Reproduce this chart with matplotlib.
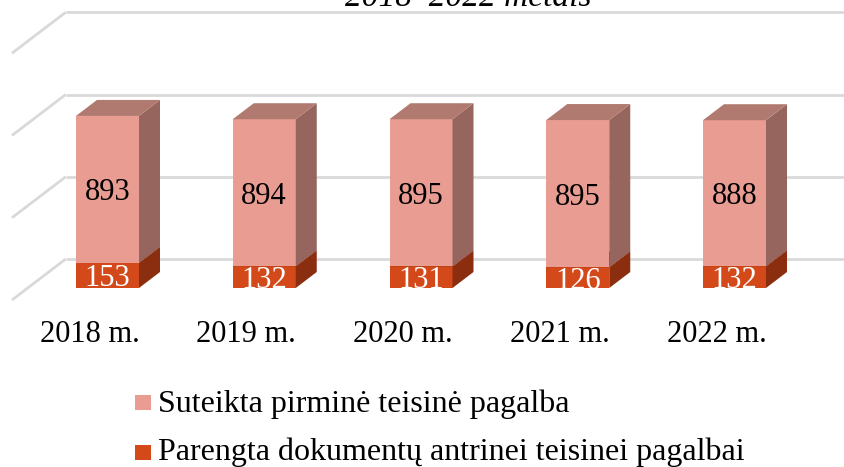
import matplotlib
matplotlib.use("Agg")
import matplotlib.pyplot as plt
from matplotlib.patches import Polygon, Rectangle

categories = ["2018 m.", "2019 m.", "2020 m.", "2021 m.", "2022 m."]
primary = [893, 894, 895, 895, 888]
documents = [153, 132, 131, 126, 132]
series_names = ["Suteikta pirminė teisinė pagalba",
                "Parengta dokumentų antrinei teisinei pagalbai"]
gridvals = [0, 500, 1000, 1500]
title = "2018–2022 metais"

W, H = 844, 467
fig = plt.figure(figsize=(W / 100, H / 100), dpi=100)
ax = fig.add_axes([0, 0, 1, 1])
ax.axis("off")

# scale: category spacing in px, px per value unit
cat_px = 156.75
val_px = 0.1645
x0_px = 107.5          # first category centre (px from left)
y0_px = 288            # zero level of bar front (px from top)
ax.set_xlim(-x0_px / cat_px, (W - x0_px) / cat_px)
ax.set_ylim(-(H - y0_px) / val_px, y0_px / val_px)

DX = 21 / cat_px       # depth offset per depth unit (x)
DY = 16 / val_px       # depth offset per depth unit (y)
half = 31.5 / cat_px
d_front, d_back = -0.75, 1.81
x_left = -0.509

grid_c = "#D9D9D9"
for v in gridvals:
    ax.plot([x_left + d_front * DX, x_left + d_back * DX],
            [v + d_front * DY, v + d_back * DY], color=grid_c, lw=2,
            solid_capstyle="butt", zorder=1)
    ax.plot([x_left + d_back * DX, ax.get_xlim()[1] + 1],
            [v + d_back * DY, v + d_back * DY], color=grid_c, lw=2,
            solid_capstyle="butt", zorder=1)

light = dict(front="#E99C91", side="#96655E", top="#B07A70")
dark = dict(front="#D4491A", side="#8B2E0F", top="#A83A14")


def box(x, b, h, col, z):
    l, r = x - half, x + half
    t = b + h
    ax.add_patch(Polygon([(l, b), (r, b), (r, t), (l, t)], closed=True,
                         fc=col["front"], ec="none", zorder=z))
    ax.add_patch(Polygon([(r, b), (r + DX, b + DY), (r + DX, t + DY), (r, t)],
                         closed=True, fc=col["side"], ec="none", zorder=z))
    ax.add_patch(Polygon([(l, t), (r, t), (r + DX, t + DY), (l + DX, t + DY)],
                         closed=True, fc=col["top"], ec="none", zorder=z))


serif = ["Liberation Serif", "DejaVu Serif"]
for i, (p, d) in enumerate(zip(primary, documents)):
    box(i, 0, d, dark, 3)
    box(i, d, p, light, 4)
    ax.text(i, d + p / 2, str(p), ha="center", va="center_baseline", fontsize=22,
            family=serif, color="black", zorder=6)
    ax.text(i, d / 2, str(d), ha="center", va="center_baseline", fontsize=22,
            family=serif, color="white", zorder=6)
    ax.text(i - 18 / cat_px, -(331 - y0_px) / val_px, categories[i],
            ha="center", va="center_baseline", fontsize=22, family=serif,
            color="black")

# title (mostly cut at top)
fig.text(468 / W, 1 - 6 / H, title, ha="center", va="baseline", fontsize=24,
         family=serif, style="italic", color="black")

# legend
for k, (name, col) in enumerate(zip(series_names, [light["front"], dark["front"]])):
    sq_top = 395 + 50 * k
    base = 412 + 48 * k
    fig.patches.append(Rectangle((135 / W, 1 - (sq_top + 15) / H), 16 / W, 15 / H,
                                 transform=fig.transFigure, fc=col, ec="none"))
    fig.text(158 / W, 1 - base / H, name, ha="left", va="baseline",
             fontsize=23, family=serif, color="black")

fig.savefig("out.png", dpi=100)
